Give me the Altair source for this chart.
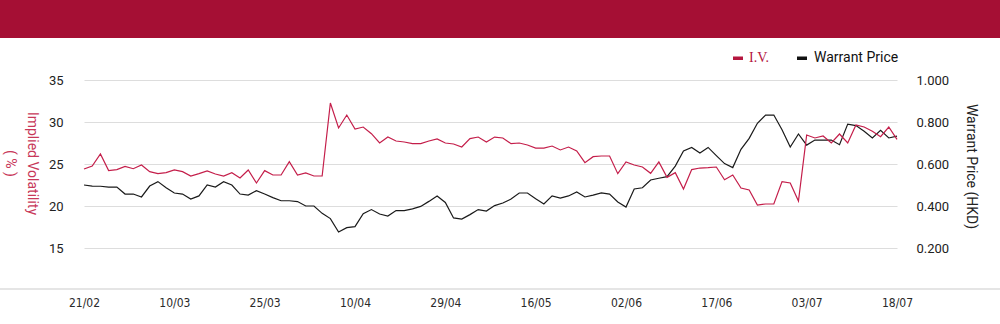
import altair as alt
import pandas as pd

dates = [
    "21/02", "24/02", "25/02", "26/02", "27/02", "28/02",
    "03/03", "04/03", "05/03", "06/03", "07/03", "10/03", "11/03", "12/03", "13/03", "14/03",
    "17/03", "18/03", "19/03", "20/03", "21/03", "24/03", "25/03", "26/03", "27/03", "28/03", "31/03",
    "01/04", "02/04", "03/04", "07/04", "08/04", "09/04", "10/04", "11/04", "14/04", "15/04", "16/04",
    "17/04", "22/04", "23/04", "24/04", "25/04", "28/04", "29/04", "30/04",
    "02/05", "06/05", "07/05", "08/05", "09/05", "12/05", "13/05", "14/05", "15/05", "16/05",
    "19/05", "20/05", "21/05", "22/05", "23/05", "26/05", "27/05", "28/05", "29/05", "30/05",
    "02/06", "03/06", "04/06", "05/06", "06/06", "09/06", "10/06", "11/06", "12/06", "13/06",
    "16/06", "17/06", "18/06", "19/06", "20/06", "23/06", "24/06", "25/06", "26/06", "27/06", "30/06",
    "02/07", "03/07", "04/07", "07/07", "08/07", "09/07", "10/07", "11/07", "14/07", "15/07",
    "16/07", "17/07", "18/07",
]

iv = [
    24.40, 24.76, 26.19, 24.21, 24.33, 24.72, 24.44, 24.88, 24.09, 23.85, 23.97, 24.29, 24.09,
    23.57, 23.85, 24.17, 23.81, 23.57, 23.97, 23.33, 24.29, 22.74, 24.21, 23.69, 23.69, 25.28,
    23.69, 23.93, 23.57, 23.57, 32.26, 29.29, 30.83, 29.17, 29.40, 28.61, 27.50, 28.21, 27.74,
    27.62, 27.42, 27.42, 27.74, 27.98, 27.50, 27.38, 27.02, 28.02, 28.21, 27.62, 28.21,
    28.10, 27.42, 27.50, 27.26, 26.90, 26.90, 27.14, 26.67, 27.02, 26.55, 25.16, 25.87, 25.95,
    25.95, 23.85, 25.24, 24.88, 24.64, 23.89, 25.24, 23.41, 23.97, 22.02, 24.33, 24.52,
    24.56, 24.64, 23.13, 23.69, 22.14, 21.90, 20.12, 20.24, 20.24, 22.90, 22.74, 20.60, 28.45,
    28.10, 28.33, 27.50, 28.57, 27.50, 29.64, 29.40, 28.89, 28.25, 29.40, 27.94,
]

price = [
    0.500, 0.495, 0.494, 0.490, 0.490, 0.457, 0.457, 0.443, 0.495, 0.516, 0.487, 0.462, 0.457,
    0.433, 0.448, 0.500, 0.490, 0.516, 0.500, 0.457, 0.452, 0.473, 0.457, 0.440, 0.425, 0.425,
    0.421, 0.400, 0.400, 0.365, 0.340, 0.276, 0.297, 0.302, 0.363, 0.383, 0.362, 0.352, 0.378,
    0.378, 0.386, 0.398, 0.422, 0.448, 0.417, 0.343, 0.338, 0.359, 0.383, 0.376, 0.402,
    0.414, 0.433, 0.462, 0.462, 0.435, 0.410, 0.448, 0.438, 0.448, 0.467, 0.443, 0.452, 0.462,
    0.457, 0.419, 0.395, 0.481, 0.487, 0.524, 0.532, 0.540, 0.590, 0.662, 0.679, 0.652,
    0.679, 0.640, 0.602, 0.583, 0.670, 0.722, 0.794, 0.833, 0.833, 0.763, 0.681, 0.743, 0.690,
    0.714, 0.714, 0.714, 0.692, 0.790, 0.783, 0.756, 0.724, 0.760, 0.724, 0.733,
]

x_labels = ["21/02", "10/03", "25/03", "10/04", "29/04", "16/05", "02/06", "17/06", "03/07", "18/07"]
iv_ticks = [15, 20, 25, 30, 35]
price_ticks = [0.2, 0.4, 0.6, 0.8, 1.0]

RED = "#c41e4a"
BANNER = "#a50f34"

df = pd.DataFrame({"idx": list(range(len(dates))), "date": dates, "iv": iv, "price": price})
one = pd.DataFrame({"k": [0]})

tick_idx = [dates.index(d) for d in x_labels]
label_map = "{" + ",".join(f"'{i}':'{d}'" for i, d in zip(tick_idx, x_labels)) + "}"

W, H = 813, 210


def x_enc():
    return alt.X(
        "idx:Q",
        scale=alt.Scale(domain=[0, len(dates) - 1], nice=False, zero=False),
        axis=alt.Axis(values=tick_idx, labelExpr=f"{label_map}[''+datum.value]",
                      labelAngle=0, domain=False, ticks=False, grid=False,
                      labelOverlap=False, labelFlush=False, labelBound=False,
                      labelPadding=7, labelFont="Liberation Sans Narrow, DejaVu Sans Condensed",
                      labelFontSize=12, labelColor="#2a2a2a", title=None),
    )


iv_line = alt.Chart(df).mark_line(color=RED, strokeWidth=1.2).encode(
    x=x_enc(),
    y=alt.Y("iv:Q", scale=alt.Scale(domain=[10, 35], nice=False, zero=False),
            axis=alt.Axis(values=iv_ticks, grid=True, gridColor="#dddddd", domain=False,
                          ticks=False, labelPadding=21, labelFont="Roboto", labelFontSize=13,
                          labelColor="#222",
                          title=["Implied Volatility", "( % )"], titleAngle=90,
                          titleX=-46, titleY=83, titleAlign="center", titleBaseline="top",
                          titleColor="#c8385a", titleFont="Roboto", titleFontSize=14,
                          titleFontWeight="normal", titleLineHeight=22)),
)

price_line = alt.Chart(df).mark_line(color="#1a1a1a", strokeWidth=1.2).encode(
    x=x_enc(),
    y=alt.Y("price:Q", scale=alt.Scale(domain=[0, 1.0], nice=False, zero=False),
            axis=alt.Axis(orient="right", values=price_ticks, format=".3f", grid=False,
                          domain=False, ticks=False, labelPadding=19, labelFont="Roboto",
                          labelFontSize=13, labelColor="#222",
                          title="Warrant Price (HKD)", titleAngle=90, titleX=80, titleY=86,
                          titleAlign="center", titleBaseline="top", titleColor="#222",
                          titleFont="Roboto", titleFontSize=14, titleFontWeight="normal")),
)

banner = alt.Chart(one).mark_rect(color=BANNER).encode(
    x=alt.value(-84), x2=alt.value(916), y=alt.value(-80), y2=alt.value(-42)
)
bottom = alt.Chart(one).mark_rule(color="#cccccc", strokeWidth=1.2).encode(
    x=alt.value(-84), x2=alt.value(916), y=alt.value(209)
)
leg_red = alt.Chart(one).mark_rect(color="#b5173f").encode(
    x=alt.value(649), x2=alt.value(659), y=alt.value(-23.5), y2=alt.value(-20)
)
leg_red_t = alt.Chart(one).mark_text(text="I.V.", align="left", baseline="middle",
                                     font="Liberation Serif", fontSize=14, color="#b5173f").encode(
    x=alt.value(665), y=alt.value(-22)
)
leg_blk = alt.Chart(one).mark_rect(color="#111111").encode(
    x=alt.value(713), x2=alt.value(723), y=alt.value(-23.5), y2=alt.value(-20)
)
leg_blk_t = alt.Chart(one).mark_text(text="Warrant Price", align="left", baseline="middle",
                                     font="Roboto", fontSize=14, color="#111").encode(
    x=alt.value(730), y=alt.value(-22)
)

chart = alt.layer(
    price_line, iv_line, banner, bottom, leg_red, leg_red_t, leg_blk, leg_blk_t
).resolve_scale(y="independent").properties(
    width=W, height=H,
    autosize=alt.AutoSizeParams(type="none"),
    padding={"left": 84, "top": 80, "right": 103, "bottom": 34},
    background="white",
).configure_view(stroke=None)

chart.save("out.html", embed_options={"renderer": "svg", "actions": False})
